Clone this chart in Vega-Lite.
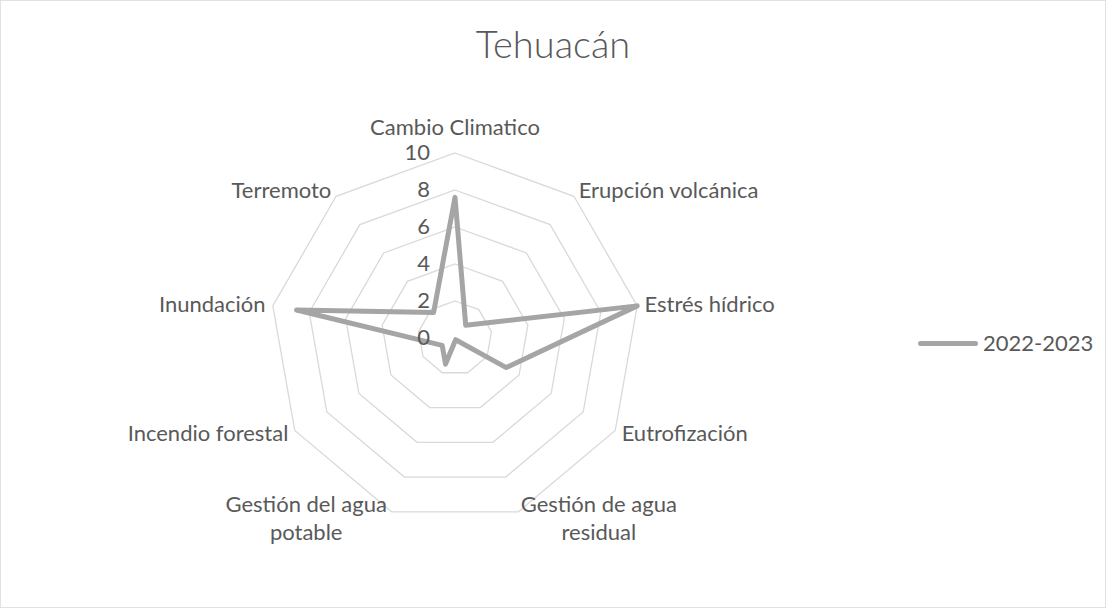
{
  "$schema": "https://vega.github.io/schema/vega-lite/v6.json",
  "width": 1106,
  "height": 608,
  "padding": 0,
  "autosize": {"type": "none"},
  "background": "#ffffff",
  "title": {
    "text": "Tehuacán",
    "font": "Lato",
    "fontSize": 38,
    "fontWeight": 300,
    "color": "#595959",
    "anchor": "middle",
    "frame": "group",
    "baseline": "alphabetic",
    "offset": -96
  },
  "config": {
    "view": {"stroke": "#d9d9d9", "strokeWidth": 1.5},
    "text": {"font": "Lato", "fontSize": 22, "fill": "#595959"}
  },
  "datasets": {
    "riesgos": [
      {"categoria": "Cambio Climatico", "etiqueta": ["Cambio Climatico"], "orden": 0, "valor": 7.6, "serie": "2022-2023"},
      {"categoria": "Erupción volcánica", "etiqueta": ["Erupción volcánica"], "orden": 1, "valor": 0.9, "serie": "2022-2023"},
      {"categoria": "Estrés hídrico", "etiqueta": ["Estrés hídrico"], "orden": 2, "valor": 10, "serie": "2022-2023"},
      {"categoria": "Eutrofización", "etiqueta": ["Eutrofización"], "orden": 3, "valor": 3.2, "serie": "2022-2023"},
      {"categoria": "Gestión de agua residual", "etiqueta": ["Gestión de agua", "residual"], "orden": 4, "valor": 0.1, "serie": "2022-2023"},
      {"categoria": "Gestión del agua potable", "etiqueta": ["Gestión del agua", "potable"], "orden": 5, "valor": 1.5, "serie": "2022-2023"},
      {"categoria": "Incendio forestal", "etiqueta": ["Incendio forestal"], "orden": 6, "valor": 0.8, "serie": "2022-2023"},
      {"categoria": "Inundación", "etiqueta": ["Inundación"], "orden": 7, "valor": 8.7, "serie": "2022-2023"},
      {"categoria": "Terremoto", "etiqueta": ["Terremoto"], "orden": 8, "valor": 1.8, "serie": "2022-2023"}
    ],
    "rejilla": [
      {"nivel": 2, "orden": [0, 1, 2, 3, 4, 5, 6, 7, 8]},
      {"nivel": 4, "orden": [0, 1, 2, 3, 4, 5, 6, 7, 8]},
      {"nivel": 6, "orden": [0, 1, 2, 3, 4, 5, 6, 7, 8]},
      {"nivel": 8, "orden": [0, 1, 2, 3, 4, 5, 6, 7, 8]},
      {"nivel": 10, "orden": [0, 1, 2, 3, 4, 5, 6, 7, 8]}
    ],
    "escala": [
      {"nivel": 0}, {"nivel": 2}, {"nivel": 4}, {"nivel": 6}, {"nivel": 8}, {"nivel": 10}
    ]
  },
  "encoding": {
    "x": {"field": "px", "type": "quantitative", "axis": null,
          "scale": {"domain": [-24.595, 35.189], "nice": false, "zero": false}},
    "y": {"field": "py", "type": "quantitative", "axis": null,
          "scale": {"domain": [-14.595, 18.27], "nice": false, "zero": false}}
  },
  "layer": [
    {
      "data": {"name": "rejilla"},
      "transform": [
        {"flatten": ["orden"]},
        {"calculate": "datum.nivel * sin(datum.orden * PI / 4.5)", "as": "px"},
        {"calculate": "datum.nivel * cos(datum.orden * PI / 4.5)", "as": "py"}
      ],
      "mark": {"type": "line", "interpolate": "linear-closed", "stroke": "#d9d9d9", "strokeWidth": 1.3},
      "encoding": {
        "detail": {"field": "nivel", "type": "nominal"},
        "order": {"field": "orden", "type": "quantitative"}
      }
    },
    {
      "data": {"name": "riesgos"},
      "transform": [
        {"calculate": "datum.valor * sin(datum.orden * PI / 4.5)", "as": "px"},
        {"calculate": "datum.valor * cos(datum.orden * PI / 4.5)", "as": "py"}
      ],
      "mark": {"type": "line", "interpolate": "linear-closed", "strokeWidth": 5, "strokeJoin": "round", "strokeCap": "round"},
      "encoding": {
        "order": {"field": "orden", "type": "quantitative"},
        "color": {
          "field": "serie", "type": "nominal",
          "scale": {"range": ["#a5a5a5"]},
          "legend": {
            "orient": "none", "legendX": 918, "legendY": 313.5, "title": null,
            "padding": 0, "symbolType": "stroke", "symbolSize": 3025, "symbolStrokeWidth": 5,
            "labelFont": "Lato", "labelFontSize": 22, "labelColor": "#595959", "labelOffset": 5,
            "encode": {"symbols": {"update": {"strokeCap": {"value": "round"}}}}
          }
        }
      }
    },
    {
      "data": {"name": "escala"},
      "transform": [
        {"calculate": "0", "as": "px"},
        {"calculate": "datum.nivel", "as": "py"}
      ],
      "mark": {"type": "text", "align": "right", "baseline": "middle", "dx": -25},
      "encoding": {"text": {"field": "nivel", "type": "quantitative"}}
    },
    {
      "data": {"name": "riesgos"},
      "transform": [
        {"filter": "datum.orden == 0"},
        {"calculate": "10.4 * sin(datum.orden * PI / 4.5)", "as": "px"},
        {"calculate": "10.4 * cos(datum.orden * PI / 4.5)", "as": "py"}
      ],
      "mark": {"type": "text", "align": "center", "baseline": "alphabetic", "dy": -11},
      "encoding": {"text": {"field": "etiqueta", "type": "nominal"}}
    },
    {
      "data": {"name": "riesgos"},
      "transform": [
        {"filter": "datum.orden >= 1 && datum.orden <= 3"},
        {"calculate": "10.4 * sin(datum.orden * PI / 4.5)", "as": "px"},
        {"calculate": "10.4 * cos(datum.orden * PI / 4.5)", "as": "py"}
      ],
      "mark": {"type": "text", "align": "left", "baseline": "middle"},
      "encoding": {"text": {"field": "etiqueta", "type": "nominal"}}
    },
    {
      "data": {"name": "riesgos"},
      "transform": [
        {"filter": "datum.orden >= 6"},
        {"calculate": "10.4 * sin(datum.orden * PI / 4.5)", "as": "px"},
        {"calculate": "10.4 * cos(datum.orden * PI / 4.5)", "as": "py"}
      ],
      "mark": {"type": "text", "align": "right", "baseline": "middle"},
      "encoding": {"text": {"field": "etiqueta", "type": "nominal"}}
    },
    {
      "data": {"name": "riesgos"},
      "transform": [
        {"filter": "datum.orden == 4"},
        {"calculate": "10.4 * sin(datum.orden * PI / 4.5)", "as": "px"},
        {"calculate": "10.4 * cos(datum.orden * PI / 4.5)", "as": "py"}
      ],
      "mark": {"type": "text", "align": "center", "baseline": "alphabetic", "dx": 78, "dy": -7, "lineHeight": 28},
      "encoding": {"text": {"field": "etiqueta", "type": "nominal"}}
    },
    {
      "data": {"name": "riesgos"},
      "transform": [
        {"filter": "datum.orden == 5"},
        {"calculate": "10.4 * sin(datum.orden * PI / 4.5)", "as": "px"},
        {"calculate": "10.4 * cos(datum.orden * PI / 4.5)", "as": "py"}
      ],
      "mark": {"type": "text", "align": "center", "baseline": "alphabetic", "dx": -83, "dy": -7, "lineHeight": 28},
      "encoding": {"text": {"field": "etiqueta", "type": "nominal"}}
    }
  ]
}
